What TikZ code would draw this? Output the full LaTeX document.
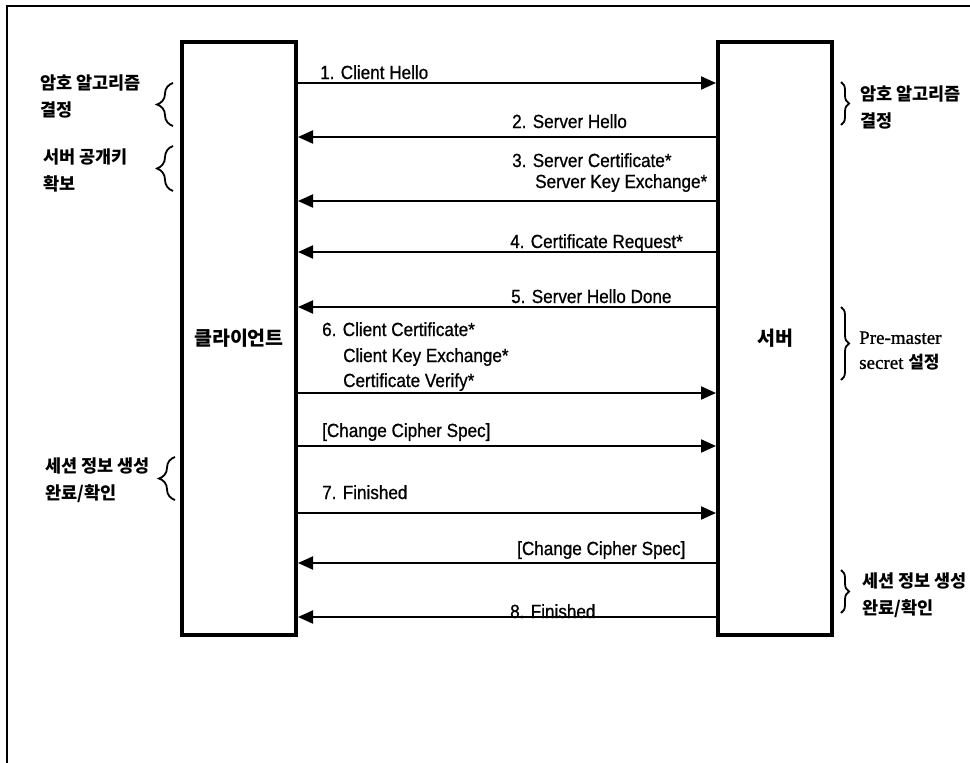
\documentclass[tikz,border=0pt]{standalone}
\usepackage{fontspec}
\setmainfont{Liberation Sans}[FakeStretch=0.9,FakeBold=0.8]
\newfontfamily\kr{Noto Sans CJK KR}
\newfontfamily\serif{Liberation Serif}[FakeBold=1]
\usetikzlibrary{arrows.meta,decorations.pathreplacing}
\begin{document}
\begin{tikzpicture}[x=1pt,y=-1pt,
  party/.style={draw,line width=4pt,minimum width=114pt,minimum height=593pt,inner sep=0pt,font=\kr\bfseries\fontsize{19.5}{20}\selectfont},
  msg/.style={line width=2pt,-{Triangle[length=15pt,width=13pt]}},
  lbl/.style={anchor=base west,inner sep=0pt,font=\fontsize{19}{20}\selectfont},
  note/.style={anchor=west,inner sep=0pt,align=left,font=\kr\bfseries\fontsize{17.5}{27}\selectfont},
  lbrace/.style={decorate,decoration={brace,amplitude=16pt},line width=1.8pt},
  rbrace/.style={decorate,decoration={brace,amplitude=8pt},line width=1.8pt}]
  \useasboundingbox (0,0) rectangle (970,763);
  % frame (top and left edges only)
  \draw[line width=2pt] (7,763) -- (7,6) -- (970,6);
  % client and server
  \node[party] (client) at (239,338.5) {클라이언트};
  \node[party] (server) at (775,338.5) {서버};
  % messages client -> server
  \foreach \n/\y in {c1/83,c6/393,c7/446,c8/513} {
    \coordinate (\n) at (client.east |- 0,\y); \coordinate (\n s) at (server.west |- 0,\y);
    \draw[msg] (\n) -- (\n s);}
  % messages server -> client
  \foreach \n/\y in {s2/137,s3/201,s4/252,s5/307,s9/563,s10/617} {
    \coordinate (\n) at (server.west |- 0,\y); \coordinate (\n c) at (client.east |- 0,\y);
    \draw[msg] (\n) -- (\n c);}
  % message labels
  \node[lbl] (m1) at (320,79) {1. Client Hello};
  \node[lbl] (m2) at (512,128) {2. Server Hello};
  \node[lbl] (m3a) at (512,167) {3. Server Certificate*};
  \node[lbl] (m3b) at (535,188) {Server Key Exchange*};
  \node[lbl] (m4) at (510,248) {4. Certificate Request*};
  \node[lbl] (m5) at (511,303) {5. Server Hello Done};
  \node[lbl] (m6a) at (322,336) {6. Client Certificate*};
  \node[lbl] (m6b) at (343,362) {Client Key Exchange*};
  \node[lbl] (m6c) at (343,387) {Certificate Verify*};
  \node[lbl] (m7) at (322,437) {[Change Cipher Spec]};
  \node[lbl] (m8) at (322,499) {7. Finished};
  \node[lbl] (m9) at (517,555) {[Change Cipher Spec]};
  \node[lbl] (m10) at (510,618) {8. Finished};
  % client side notes
  \draw[lbrace] (173,126) -- (173,83);
  \node[note] (n1) at (40,96) {암호 알고리즘\\결정};
  \draw[lbrace] (173,191) -- (173,146);
  \node[note] (n2) at (43,170) {서버 공개키\\확보};
  \draw[lbrace] (175,500) -- (175,457);
  \node[note] (n3) at (45,480) {세션 정보 생성\\완료/확인};
  % server side notes
  \draw[rbrace] (841,82) -- (841,125);
  \node[note] (n4) at (860,107) {암호 알고리즘\\결정};
  \draw[rbrace] (841,307) -- (841,380);
  \node[note,font=\serif\fontsize{19}{25}\selectfont] (n5) at (859,351) {Pre-master\\secret {\kr\bfseries\fontsize{17}{25}\selectfont 설정}};
  \draw[rbrace] (841,570) -- (841,613);
  \node[note] (n6) at (862,595) {세션 정보 생성\\완료/확인};
\end{tikzpicture}
\end{document}
